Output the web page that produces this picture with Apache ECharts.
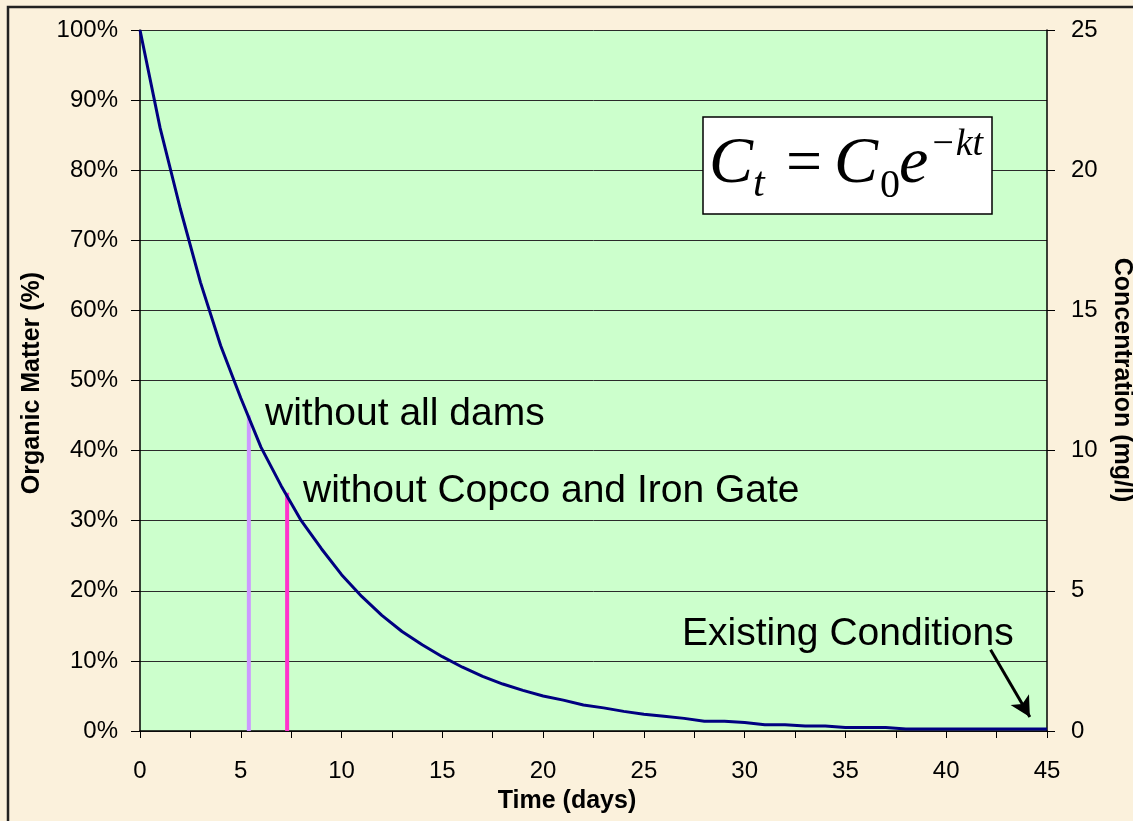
<!DOCTYPE html>
<html>
<head>
<meta charset="utf-8">
<script src="https://cdn.jsdelivr.net/npm/echarts@6/dist/echarts.min.js"></script>
<style>
html,body{margin:0;padding:0;background:#fbf1dc;}
#c{width:1133px;height:821px;}
</style>
</head>
<body>
<div id="c"></div>
<script>
// ---- data ----
const days = [0,1,2,3,4,5,6,7,8,9,10,11,12,13,14,15,16,17,18,19,20,21,22,23,24,25,26,27,28,29,30,31,32,33,34,35,36,37,38,39,40,41,42,43,44,45];
const organicMatter = [100,86,74.5,64,55,47.5,40.5,35,30,26,22.3,19.2,16.5,14.2,12.3,10.6,9.1,7.8,6.7,5.8,5.0,4.4,3.7,3.3,2.8,2.4,2.1,1.8,1.4,1.4,1.2,0.9,0.9,0.7,0.7,0.5,0.5,0.5,0.3,0.3,0.3,0.3,0.3,0.3,0.3,0.3];
const allDamsMarker = [[5.4,0],[5.4,45]];
const copcoMarker = [[7.3,0],[7.3,34]];
const arrowStart = [42.2,11.6];
const arrowEnd = [44.15,2.0];
const xTicks = {min:0,max:45,step:5};
const yLeftTicks = {min:0,max:100,step:10};
const yRightTicks = {min:0,max:25,step:5};
const labels = {
  allDams:'without all dams',
  copco:'without Copco and Iron Gate',
  existing:'Existing Conditions',
  xTitle:'Time (days)',
  yLeftTitle:'Organic Matter (%)',
  yRightTitle:'Concentration (mg/l)'
};

const chart = echarts.init(document.getElementById('c'));
const F = 'Arial, "Liberation Sans", sans-serif';
const S = '"Liberation Serif","Times New Roman",serif';
const lineData = days.map((d,i)=>[d,organicMatter[i]]);

chart.setOption({
  backgroundColor:'#fbf1dc',
  animation:false,
  grid:{left:140,right:86,top:30,bottom:90,show:true,backgroundColor:'#ccffcc',borderWidth:0},
  xAxis:{
    type:'value',min:xTicks.min,max:xTicks.max,interval:xTicks.step,
    axisLine:{show:true,onZero:false,lineStyle:{color:'#000',width:1.5}},
    axisTick:{show:true,length:7,lineStyle:{color:'#000',width:1}},
    minorTick:{show:true,splitNumber:2,length:7,lineStyle:{color:'#000',width:1}},
    splitLine:{show:false},
    axisLabel:{color:'#000',fontFamily:F,fontSize:24,margin:28}
  },
  yAxis:[{
    type:'value',min:yLeftTicks.min,max:yLeftTicks.max,interval:yLeftTicks.step,
    axisLine:{show:true,lineStyle:{color:'#000',width:1.5}},
    axisTick:{show:true,length:9,lineStyle:{color:'#000',width:1}},
    splitLine:{show:true,lineStyle:{color:'#2a2a2a',width:1}},
    axisLabel:{color:'#000',fontFamily:F,fontSize:24,margin:22,formatter:'{value}%'}
  },{
    type:'value',position:'right',min:yRightTicks.min,max:yRightTicks.max,interval:yRightTicks.step,
    axisLine:{show:true,lineStyle:{color:'#000',width:1.5}},
    axisTick:{show:true,length:8,lineStyle:{color:'#000',width:1}},
    splitLine:{show:false},
    axisLabel:{color:'#000',fontFamily:F,fontSize:24,margin:24}
  }],
  series:[
    {type:'line',data:allDamsMarker,symbol:'none',silent:true,z:3,lineStyle:{color:'#cc99ff',width:4}},
    {type:'line',data:copcoMarker,symbol:'none',silent:true,z:3,lineStyle:{color:'#ff33cc',width:4}},
    {type:'line',data:lineData,symbol:'none',z:4,lineStyle:{color:'#000080',width:3},
     markLine:{silent:true,symbol:['none','arrow'],symbolSize:[16,20],label:{show:false},
       lineStyle:{color:'#000',width:3,type:'solid'},
       data:[[{coord:arrowStart},{coord:arrowEnd}]]}}
  ],
  graphic:[
    {type:'rect',x:8,y:7,shape:{width:1200,height:900},style:{fill:null,stroke:'#222',lineWidth:2.5},z:100,silent:true},
    {type:'text',x:265,y:414,z:50,style:{text:labels.allDams,font:'39px '+F,fill:'#000',verticalAlign:'middle'}},
    {type:'text',x:303,y:491,z:50,style:{text:labels.copco,font:'39px '+F,fill:'#000',verticalAlign:'middle'}},
    {type:'text',x:682,y:634,z:50,style:{text:labels.existing,font:'39px '+F,fill:'#000',verticalAlign:'middle'}},
    {type:'text',x:567,y:801,z:50,style:{text:labels.xTitle,font:'bold 25px '+F,fill:'#000',align:'center',verticalAlign:'middle'}},
    {type:'text',x:32,y:383,rotation:Math.PI/2,z:50,style:{text:labels.yLeftTitle,font:'bold 25px '+F,fill:'#000',align:'center',verticalAlign:'middle'}},
    {type:'text',x:1122,y:380,rotation:-Math.PI/2,z:50,style:{text:labels.yRightTitle,font:'bold 25px '+F,fill:'#000',align:'center',verticalAlign:'middle'}},
    {type:'rect',x:703,y:117,z:40,shape:{width:289,height:97},style:{fill:'#fff',stroke:'#000',lineWidth:1.5}},
    {type:'text',x:709,y:165,z:50,style:{text:'C',font:'italic 66px '+S,fill:'#000',verticalAlign:'middle'}},
    {type:'text',x:753,y:185,z:50,style:{text:'t',font:'italic 42px '+S,fill:'#000',verticalAlign:'middle'}},
    {type:'text',x:786,y:165,z:50,style:{text:'=',font:'64px '+S,fill:'#000',verticalAlign:'middle'}},
    {type:'text',x:834,y:165,z:50,style:{text:'C',font:'italic 66px '+S,fill:'#000',verticalAlign:'middle'}},
    {type:'text',x:880,y:186,z:50,style:{text:'0',font:'40px '+S,fill:'#000',verticalAlign:'middle'}},
    {type:'text',x:899,y:165,z:50,style:{text:'e',font:'italic 66px '+S,fill:'#000',verticalAlign:'middle'}},
    {type:'text',x:930,y:145,z:50,style:{text:'\u2212kt',font:'italic 38px '+S,fill:'#000',verticalAlign:'middle'}}
  ]
});
</script>
</body>
</html>
